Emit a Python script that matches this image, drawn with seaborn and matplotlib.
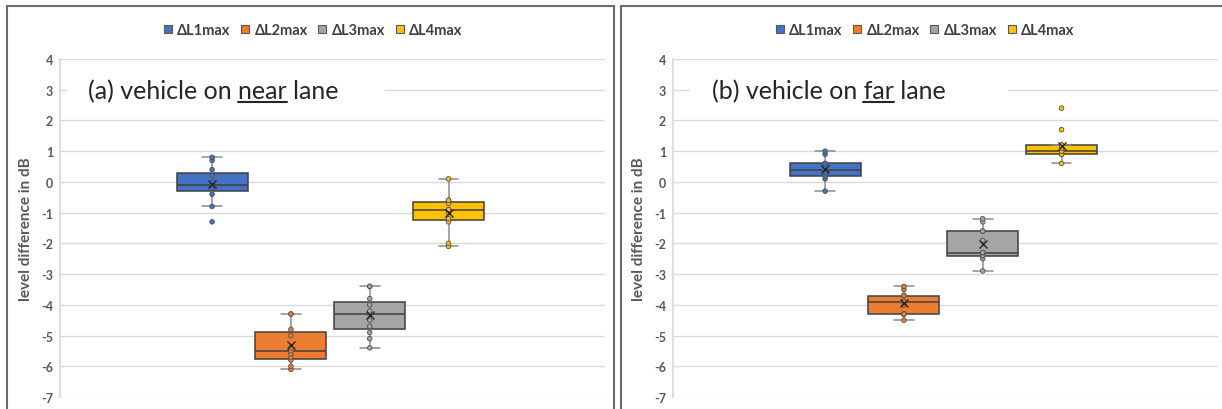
import pandas as pd
import matplotlib.pyplot as plt
from matplotlib.lines import Line2D
from matplotlib.patches import Rectangle
import seaborn as sns

# series and colours (Excel default palette)
series = ["ΔL1max", "ΔL2max", "ΔL3max", "ΔL4max"]
colors = ["#4472C4", "#ED7D31", "#A5A5A5", "#FFC000"]

near_L1 = [-1.3, -0.8, -0.4, -0.2, -0.1, -0.1, 0.0, 0.2, 0.4, 0.7, 0.8]
near_L2 = [-6.1, -6.0, -5.8, -5.7, -5.6, -5.5, -5.4, -5.0, -4.8, -4.3, -4.3]
near_L3 = [-5.4, -5.1, -4.9, -4.7, -4.5, -4.3, -4.2, -4.0, -3.8, -3.4, -3.4]
near_L4 = [-2.1, -2.0, -1.3, -1.2, -1.0, -0.9, -0.9, -0.7, -0.6, -0.6, 0.1]

# (b) vehicle on far lane
far_L1 = [-0.3, 0.1, 0.2, 0.2, 0.3, 0.4, 0.5, 0.6, 0.6, 0.9, 1.0]
far_L2 = [-4.5, -4.3, -4.3, -4.3, -4.0, -3.9, -3.9, -3.7, -3.7, -3.5, -3.4]
far_L3 = [-2.9, -2.5, -2.4, -2.4, -2.3, -2.3, -1.9, -1.6, -1.6, -1.3, -1.2]
far_L4 = [0.6, 0.9, 0.9, 0.9, 1.0, 1.0, 1.0, 1.1, 1.2, 1.2, 1.2, 1.7, 2.4]

yticks = list(range(-7, 5))
ylabel = "level difference in dB"


def to_long(groups):
    rows = []
    for name, vals in zip(series, groups):
        rows += [(name, v) for v in vals]
    return pd.DataFrame(rows, columns=["series", "value"])


df_near = to_long([near_L1, near_L2, near_L3, near_L4])
df_far = to_long([far_L1, far_L2, far_L3, far_L4])

sns.set_theme(style="white")
plt.rcParams["font.family"] = ["Lato", "DejaVu Sans"]
plt.rcParams["axes.unicode_minus"] = False

W, H = 1222, 410
fig = plt.figure(figsize=(W / 100, H / 100), dpi=100)
fig.patch.set_facecolor("white")


def px_axes(l, t, r, b):
    return fig.add_axes([l / W, 1 - b / H, (r - l) / W, (b - t) / H])


TXT = "#595959"


def draw_panel(ax, df):
    sns.boxplot(data=df, x="series", y="value", hue="series", order=series,
                hue_order=series, palette=colors, saturation=1, width=0.9,
                linecolor="#404040", linewidth=1.1, showfliers=False, whis=1.5,
                legend=False, showmeans=True,
                meanprops=dict(marker="x", markeredgecolor="#262626",
                               markeredgewidth=1.0, markersize=5.5, zorder=6),
                whiskerprops=dict(color="#8c8c8c"), capprops=dict(color="#8c8c8c"),
                medianprops=dict(color="#404040"),
                capwidths=0.25, ax=ax)
    sns.stripplot(data=df, x="series", y="value", hue="series", order=series,
                  hue_order=series, palette=colors, jitter=False, size=3.3,
                  linewidth=0.6, edgecolor="#505050", legend=False, ax=ax, zorder=5)
    ax.set_xlim(-1.93, 4.985)
    ax.set_ylim(-7, 4)
    ax.set_yticks(yticks, labels=[str(v) for v in yticks])
    for lbl in ax.get_yticklabels():
        lbl.set_fontweight("bold")
    ax.set_xticks([])
    ax.set_xlabel("")
    ax.set_ylabel(ylabel, fontsize=11, fontweight="bold", color=TXT)
    ax.yaxis.set_label_coords(-0.05, 0.5)
    ax.tick_params(axis="y", length=0, pad=5, labelsize=9, labelcolor=TXT)
    ax.set_axisbelow(True)
    ax.grid(axis="y", color="#d9d9d9", linewidth=1)
    ax.xaxis.grid(False)
    for s in ["top", "right", "bottom"]:
        ax.spines[s].set_visible(False)
    ax.spines["left"].set_color("#d9d9d9")


def lane_title(ax, x, pre, word, post, gap):
    # white box behind the text hides the gridline at 3
    ax.add_patch(Rectangle((gap[0], 0.86), gap[1] - gap[0], 0.10,
                           transform=ax.transAxes, facecolor="white",
                           edgecolor="none", zorder=1))
    trans = ax.get_yaxis_transform()
    kw = dict(fontsize=18, color="#262626", va="baseline", ha="left")
    ax.text(x, 2.73, pre + word + post, transform=trans, zorder=3, **kw)
    r = fig.canvas.get_renderer()

    def width(s):
        tmp = ax.text(x, 2.73, s, transform=trans, **kw)
        w = tmp.get_window_extent(r).width
        tmp.remove()
        return w

    xd, yd = trans.transform((x, 2.73))
    x0 = xd + width(pre + word[0]) - width(word[0])
    x1 = xd + width(pre + word)
    inv = fig.transFigure.inverted()
    (fx0, fy), (fx1, _) = inv.transform([(x0, yd - 4), (x1, yd - 4)])
    fig.add_artist(Line2D([fx0, fx1], [fy, fy], color="#262626", lw=1.5))


def panel_legend(ax, cx):
    handles = [Line2D([], [], marker="s", ls="", markersize=6, markerfacecolor=c,
                      markeredgecolor="#595959", markeredgewidth=0.8) for c in colors]
    leg = ax.legend(handles, series, loc="center", ncol=4, frameon=False,
                    bbox_to_anchor=(cx / W, 1 - 30.7 / H), bbox_transform=fig.transFigure,
                    handlelength=0.6, handletextpad=0.35, columnspacing=0.7,
                    prop=dict(size=10.5, weight="bold"))
    for t in leg.get_texts():
        t.set_color("#404040")


ax_a = px_axes(60, 60, 605, 398)
ax_b = px_axes(673, 60, 1218, 398)

draw_panel(ax_a, df_near)
draw_panel(ax_b, df_far)

lane_title(ax_a, 0.052, "(a) vehicle on ", "near", " lane", (0.013, 0.596))
lane_title(ax_b, 0.071, "(b) vehicle on ", "far", " lane", (0.031, 0.615))

panel_legend(ax_a, 313)
panel_legend(ax_b, 925)

# chart area frames (bottom edge is cut off in the reference)
fig.add_artist(Rectangle((7.5 / W, -0.1), (614 - 7.5) / W, 1.1 - 7 / H,
                         transform=fig.transFigure, fill=False,
                         edgecolor="#6b6b6b", lw=1.5))
fig.add_artist(Rectangle((620.5 / W, -0.1), 0.6, 1.1 - 7 / H,
                         transform=fig.transFigure, fill=False,
                         edgecolor="#6b6b6b", lw=1.5))

plt.savefig("out.png", dpi=100)
